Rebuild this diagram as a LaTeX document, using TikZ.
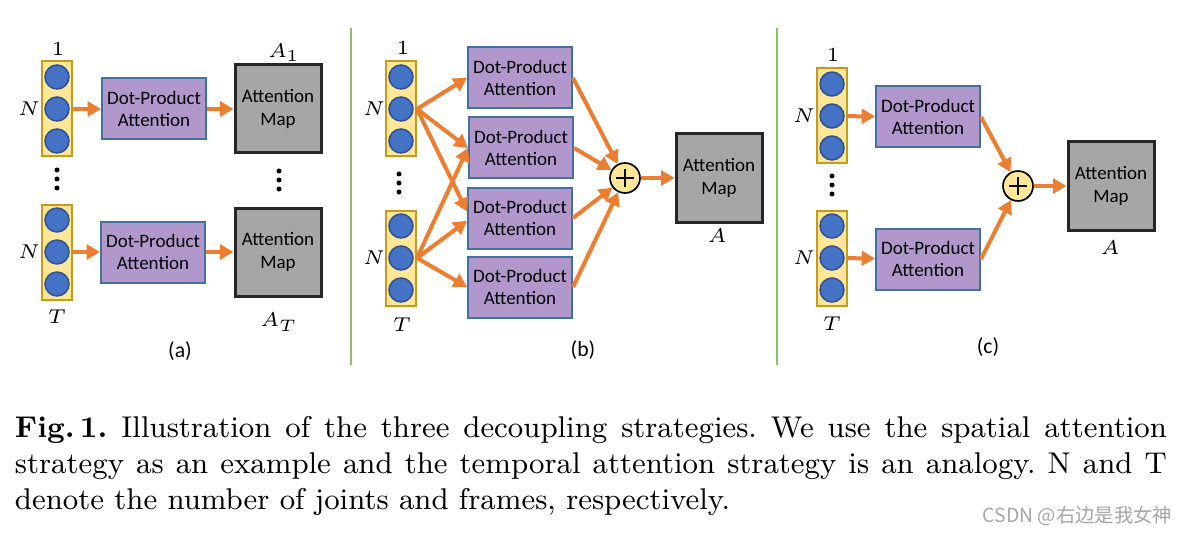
\documentclass[tikz,border=0pt]{standalone}
\usepackage{fontspec}
\newfontfamily\calib{Carlito}
\newfontfamily\cjk{Noto Sans CJK SC}
\usetikzlibrary{arrows.meta}

\definecolor{goldfill}{HTML}{FFE699}
\definecolor{goldline}{HTML}{C59A1E}
\definecolor{jointfill}{HTML}{4472C4}
\definecolor{jointline}{HTML}{2F528F}
\definecolor{dpafill}{HTML}{B197CC}
\definecolor{dpaline}{HTML}{41719C}
\definecolor{mapfill}{HTML}{A6A6A6}
\definecolor{mapline}{HTML}{262626}
\definecolor{arrowc}{HTML}{ED7D31}
\definecolor{divc}{HTML}{8DC26B}

\tikzset{
every picture/.style={
line width=0.6pt
}}

\begin{document}
\begin{tikzpicture}[x=0.3pt, y=-0.3pt,
col/.style = {rectangle, draw=goldline, fill=goldfill, minimum width=9pt, minimum height=28.5pt, inner sep=0},
joint/.style = {circle, draw=jointline, fill=jointfill, line width=0.45pt, minimum size=7.2pt, inner sep=0},
dpa/.style = {rectangle, draw=dpaline, fill=dpafill, minimum width=31.2pt, minimum height=18.3pt, inner sep=0, align=center, font=\calib\fontsize{5.7}{6.8}\selectfont},
amap/.style = {rectangle, draw=mapline, fill=mapfill, line width=0.9pt, minimum width=25.8pt, minimum height=26.4pt, inner sep=0, align=center, font=\calib\fontsize{5.7}{6.8}\selectfont},
addop/.style = {circle, draw=black, fill=goldfill, line width=0.5pt, minimum size=9pt, inner sep=0,
  path picture={\draw[line width=0.6pt] ([xshift=-2.7pt]path picture bounding box.center) -- ([xshift=2.7pt]path picture bounding box.center)
    ([yshift=-2.7pt]path picture bounding box.center) -- ([yshift=2.7pt]path picture bounding box.center);}},
flow/.style = {draw=arrowc, line width=1.2pt, -{Triangle[length=4pt,width=4.4pt]}},
lbl/.style = {font=\fontsize{6}{7}\selectfont, inner sep=0},
sub/.style = {font=\calib\fontsize{6.5}{7.5}\selectfont, inner sep=0},
divider/.style = {draw=divc, line width=0.6pt}]

\useasboundingbox (0,0) rectangle (1188,536);

% joint columns
\foreach \c/\x/\y in {a1/57/109, aT/57/252, b1/401/109, bT/401/258, c1/832/116, cT/832/258} {
  \node[col] (col\c) at (\x,\y) {};
  \node[joint] (j\c1) at (\x,\y-32) {};
  \node[joint] (j\c2) at (\x,\y) {};
  \node[joint] (j\c3) at (\x,\y+32) {};
}
\foreach \x/\y in {57/179, 279/180, 399/183, 832/185}
  \foreach \d in {-9,0,9}
    \fill (\x,\y+\d) circle (0.75pt);

\draw[divider] (351,28) -- (351,365);
\draw[divider] (777,28) -- (777,365);

% (a)
\node[lbl] (oneA) at (58,49) {$1$};
\node[lbl] (nA1) at (29,109) {$N$};
\node[lbl] (nAT) at (29,252) {$N$};
\node[lbl] (tA) at (57,317) {$T$};
\node[dpa] (dpA1) at (154,109) {Dot-Product\\Attention};
\node[dpa] (dpAT) at (153,252) {Dot-Product\\Attention};
\node[amap] (mapA1) at (278,109) {Attention\\Map};
\node[amap] (mapAT) at (278,252) {Attention\\Map};
\node[lbl] (a1) at (284,53) {$A_1$};
\node[lbl] (aT) at (279,322) {$A_T$};
\node[sub] (subA) at (180,351) {(a)};

\draw[flow] (cola1) -- (dpA1);
\draw[flow] (dpA1) -- (mapA1);
\draw[flow] (colaT) -- (dpAT);
\draw[flow] (dpAT) -- (mapAT);

% (b)
\node[lbl] (oneB) at (403,48) {$1$};
\node[lbl] (nB1) at (374,109) {$N$};
\node[lbl] (nBT) at (374,258) {$N$};
\node[lbl] (tB) at (402,325) {$T$};
\node[dpa] (dpB1) at (520,78) {Dot-Product\\Attention};
\node[dpa] (dpB2) at (521,148) {Dot-Product\\Attention};
\node[dpa] (dpB3) at (520,218) {Dot-Product\\Attention};
\node[dpa] (dpB4) at (520,287) {Dot-Product\\Attention};
\node[addop] (addB) at (625,178) {};
\node[amap] (mapB) at (719,178) {Attention\\Map};
\node[lbl] (aB) at (717,236) {$A$};
\node[sub] (subB) at (583,350) {(b)};

\draw[flow] (colb1.east) -- (dpB1.west);
\draw[flow] (colb1.east) -- (dpB2.west);
\draw[flow] (colb1.east) -- (dpB3.173);
\draw[flow] (colbT.east) -- (dpB2.west);
\draw[flow] (colbT.east) -- (dpB3.183);
\draw[flow] (colbT.east) -- (dpB4.west);
\draw[flow] (dpB1.east) -- (addB);
\draw[flow] (dpB2.east) -- (addB);
\draw[flow] (dpB3.east) -- (addB);
\draw[flow] (dpB4.east) -- (addB);
\draw[flow] (addB) -- (mapB);

% (c)
\node[lbl] (oneC) at (833,55) {$1$};
\node[lbl] (nC1) at (804,116) {$N$};
\node[lbl] (nCT) at (804,258) {$N$};
\node[lbl] (tC) at (832,324) {$T$};
\node[dpa] (dpC1) at (928,117) {Dot-Product\\Attention};
\node[dpa] (dpCT) at (928,259) {Dot-Product\\Attention};
\node[addop] (addC) at (1018,186) {};
\node[amap] (mapC) at (1111,186) {Attention\\Map};
\node[lbl] (aC) at (1110,248) {$A$};
\node[sub] (subC) at (988,347) {(c)};

\draw[flow] (colc1) -- (dpC1);
\draw[flow] (colcT) -- (dpCT);
\draw[flow] (dpC1.east) -- (addC);
\draw[flow] (dpCT.east) -- (addC);
\draw[flow] (addC) -- (mapC);

% caption
\node[anchor=north west, text width=345.6pt, align=justify, inner sep=0, font=\fontsize{9}{10.8}\selectfont\frenchspacing] (caption) at (14,415)
  {\textbf{Fig.\,1.} Illustration of the three decoupling strategies. We use the spatial attention\linebreak
   strategy as an example and the temporal attention strategy is an analogy. N and T\linebreak
   denote the number of joints and frames, respectively.};
\node[anchor=east, text=black!35, inner sep=0, font=\cjk\fontsize{5.8}{6}\selectfont] (mark) at (1173,516) {CSDN @右边是我女神};
\end{tikzpicture}
\end{document}
